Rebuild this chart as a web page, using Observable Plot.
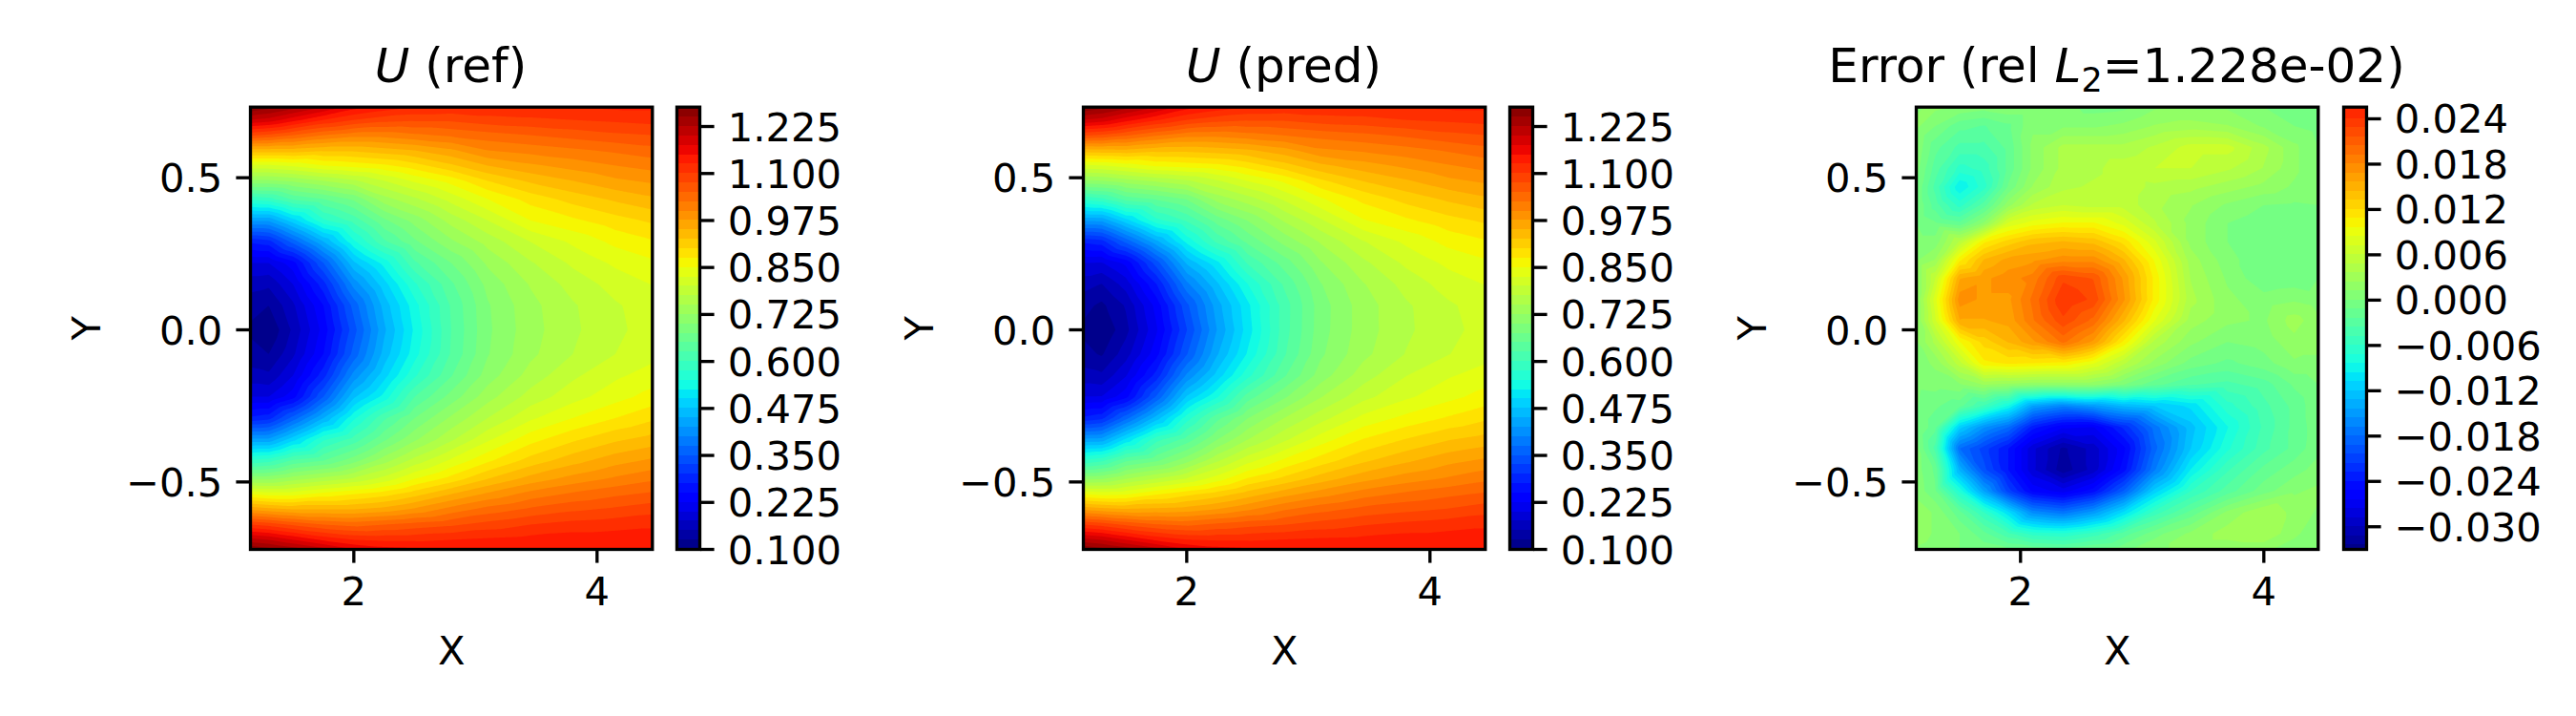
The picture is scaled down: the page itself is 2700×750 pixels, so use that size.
<!DOCTYPE html>
<html><head><meta charset="utf-8">
<script src="https://cdn.jsdelivr.net/npm/d3@7"></script>
<script src="https://cdn.jsdelivr.net/npm/@observablehq/plot@0.6"></script>
<style>
html,body{margin:0;padding:0;background:#fff}
#page{position:relative;width:2700px;height:750px;overflow:hidden;background:#fff;font-family:"DejaVu Sans"}
#page svg{position:absolute;top:0;background:transparent}
.title{position:absolute;top:39px;width:700px;text-align:center;font:50px/60px "DejaVu Sans";color:#000;white-space:nowrap}
.title sub{font-size:35px;line-height:0;vertical-align:-10px}
</style></head><body><div id="page"></div>
<script>
const uX=[1.15,1.3,1.5,1.75,2,2.25,2.5,2.8,3.1,3.45,3.8,4.15,4.455];
const uY=[.7321,.69,.64,.59,.54,.49,.43,.36,.29,.22,.15,.08,0,-.08,-.15,-.22,-.29,-.36,-.43,-.49,-.54,-.59,-.64,-.69,-.7217];
const uRef=[
[1.275,1.26,1.235,1.2,1.16,1.14,1.125,1.12,1.12,1.12,1.125,1.13,1.13],
[1.2,1.19,1.16,1.125,1.1,1.085,1.08,1.08,1.09,1.095,1.1,1.105,1.11],
[1.08,1.07,1.05,1.025,1.01,1.01,1.02,1.03,1.04,1.05,1.06,1.07,1.075],
[.94,.94,.94,.93,.93,.94,.95,.97,1,1.01,1.02,1.03,1.04],
[.82,.82,.83,.85,.86,.87,.89,.92,.95,.97,.985,1,1.01],
[.72,.72,.73,.75,.77,.8,.83,.86,.9,.93,.95,.97,.98],
[.58,.59,.63,.65,.68,.74,.77,.81,.85,.885,.91,.93,.945],
[.43,.43,.49,.57,.61,.67,.71,.76,.8,.85,.87,.89,.905],
[.28,.29,.36,.45,.545,.62,.67,.72,.76,.8,.83,.857,.872],
[.2,.2,.24,.35,.47,.535,.62,.675,.73,.772,.805,.83,.845],
[.16,.155,.2,.29,.41,.49,.57,.645,.708,.752,.785,.81,.826],
[.135,.125,.17,.25,.36,.46,.54,.628,.697,.742,.772,.797,.813],
[.12,.102,.155,.235,.34,.445,.53,.625,.695,.74,.77,.795,.81],
[.135,.125,.17,.25,.36,.46,.54,.628,.698,.744,.775,.8,.817],
[.16,.155,.2,.29,.41,.49,.57,.648,.712,.76,.795,.82,.836],
[.2,.2,.24,.35,.47,.535,.625,.685,.74,.785,.815,.84,.86],
[.28,.29,.36,.45,.545,.62,.675,.73,.775,.82,.85,.875,.895],
[.43,.43,.49,.57,.61,.67,.72,.77,.82,.865,.895,.92,.935],
[.58,.59,.63,.65,.69,.74,.785,.83,.87,.91,.94,.965,.98],
[.72,.72,.74,.76,.78,.81,.85,.885,.925,.96,.985,1.005,1.02],
[.85,.84,.84,.86,.875,.89,.915,.95,.98,1.01,1.03,1.045,1.055],
[.97,.96,.95,.95,.95,.96,.98,1.01,1.035,1.055,1.07,1.08,1.09],
[1.1,1.09,1.07,1.05,1.04,1.05,1.06,1.07,1.085,1.1,1.11,1.115,1.12],
[1.21,1.2,1.175,1.145,1.125,1.12,1.12,1.125,1.13,1.135,1.14,1.14,1.14],
[1.275,1.26,1.24,1.21,1.175,1.16,1.155,1.15,1.15,1.15,1.15,1.15,1.15]];
const uPred=[
[1.275,1.26,1.235,1.2,1.16,1.14,1.125,1.12,1.12,1.12,1.125,1.13,1.13],
[1.2,1.19,1.16,1.128,1.1,1.085,1.078,1.078,1.088,1.092,1.1,1.105,1.11],
[1.08,1.072,1.054,1.029,1.01,1.008,1.016,1.026,1.035,1.044,1.055,1.068,1.075],
[.94,.943,.945,.934,.932,.938,.946,.965,.995,1.004,1.015,1.028,1.04],
[.82,.824,.837,.855,.862,.868,.886,.915,.944,.964,.981,.998,1.01],
[.72,.724,.739,.755,.771,.797,.826,.855,.895,.926,.947,.969,.98],
[.58,.593,.636,.653,.677,.735,.764,.804,.846,.882,.909,.93,.945],
[.43,.431,.491,.567,.604,.661,.701,.753,.796,.848,.87,.891,.905],
[.28,.289,.357,.442,.532,.606,.656,.708,.753,.798,.83,.858,.872],
[.2,.198,.232,.337,.454,.518,.603,.661,.722,.769,.805,.831,.845],
[.16,.149,.186,.274,.393,.47,.549,.629,.698,.748,.784,.811,.826],
[.134,.119,.153,.234,.343,.438,.518,.612,.688,.738,.771,.796,.812],
[.119,.102,.142,.221,.324,.426,.512,.613,.689,.738,.77,.793,.809],
[.134,.122,.164,.241,.348,.447,.528,.621,.695,.743,.776,.799,.816],
[.16,.155,.198,.285,.405,.485,.566,.646,.712,.763,.799,.822,.836],
[.2,.201,.242,.353,.478,.547,.637,.695,.748,.792,.82,.842,.86],
[.28,.292,.366,.462,.563,.642,.699,.75,.79,.832,.857,.878,.895],
[.43,.433,.505,.59,.635,.699,.749,.794,.837,.876,.901,.923,.935],
[.58,.594,.646,.671,.716,.771,.816,.855,.887,.92,.945,.967,.98],
[.72,.723,.75,.777,.803,.838,.878,.907,.938,.967,.988,1.004,1.019],
[.85,.842,.846,.872,.893,.912,.937,.966,.989,1.014,1.031,1.044,1.054],
[.97,.961,.953,.957,.962,.976,.996,1.022,1.041,1.058,1.068,1.077,1.089],
[1.1,1.09,1.07,1.052,1.044,1.056,1.066,1.074,1.086,1.098,1.107,1.114,1.12],
[1.21,1.2,1.175,1.145,1.126,1.122,1.122,1.126,1.13,1.133,1.139,1.14,1.14],
[1.275,1.26,1.24,1.21,1.175,1.16,1.155,1.15,1.15,1.15,1.15,1.15,1.15]];
const errX=[1.143,1.3,1.5,1.7,1.9,2.1,2.35,2.6,2.85,3.1,3.4,3.7,4,4.25,4.447];
const errY=[.7321,.67,.6,.53,.47,.41,.35,.29,.23,.17,.1,.03,-.04,-.11,-.18,-.25,-.32,-.39,-.46,-.53,-.6,-.67,-.7217];
const errField=[
[.001,.0015,.001,.0005,.001,.001,.0005,-.0005,-.0003,.001,.001,.001,0,-.0005,-.001],
[.0015,0,-.002,-.0025,-.0015,.001,.001,.001,.0015,.0025,.003,.0025,.001,0,-.0005],
[.001,-.002,-.004,-.004,-.002,.0015,.004,.004,.004,.005,.0065,.0065,.004,.0015,0],
[.0005,-.003,-.0065,-.0055,-.002,.0015,.004,.0045,.0055,.006,.006,.005,.0035,.0015,0],
[0,-.004,-.0095,-.0065,-.001,.0025,.0045,.005,.0055,.0045,.004,.003,.002,.001,0],
[0,-.003,-.0065,-.003,.002,.005,.006,.0055,.0055,.004,.0025,.001,0,-.0002,0],
[0,-.001,-.002,.0015,.0075,.009,.0098,.0098,.008,.005,.002,0,-.0008,-.0008,-.0002],
[.0005,.0005,.005,.0105,.0125,.014,.0145,.014,.0115,.0075,.002,0,-.001,-.001,0],
[.001,.0025,.0105,.0145,.016,.0165,.0175,.0175,.0145,.0095,.003,.0005,-.001,-.001,0],
[.001,.006,.0155,.0165,.0175,.0185,.0225,.0215,.0165,.0105,.0035,.001,-.001,-.0008,0],
[.001,.008,.0175,.0165,.0165,.0195,.024,.0225,.017,.0105,.004,.0015,.0005,.001,.0005],
[.001,.007,.0155,.0155,.016,.019,.0225,.02,.0145,.0085,.003,.0015,.001,.003,.0015],
[.001,.004,.0095,.0125,.0145,.0165,.0195,.0165,.0105,.0045,.0015,0,.0005,.002,.0015],
[.0005,.0015,.0055,.0105,.011,.0108,.0105,.0085,.005,.002,-.0005,-.0015,-.0005,.001,.001],
[.0003,.0005,.001,.0025,.002,.0015,.0015,.0015,0,-.002,-.0035,-.004,-.003,-.001,0],
[.0001,-.001,-.002,-.005,-.0085,-.0145,-.0165,-.015,-.013,-.012,-.0105,-.0065,-.004,-.002,-.0003],
[.0002,-.002,-.0115,-.0155,-.018,-.0235,-.0262,-.0265,-.0225,-.0175,-.0125,-.0085,-.0045,-.002,-.0005],
[.0005,-.004,-.018,-.021,-.024,-.0285,-.0315,-.0295,-.0255,-.0185,-.012,-.0075,-.004,-.002,-.0003],
[.0006,-.0015,-.0135,-.02,-.024,-.0285,-.032,-.0295,-.0245,-.017,-.0095,-.005,-.002,-.0005,.0005],
[.0008,-.001,-.0075,-.0145,-.021,-.0255,-.027,-.0245,-.019,-.0115,-.006,-.003,-.0005,.001,.0015],
[.002,.001,-.002,-.006,-.0105,-.016,-.0175,-.015,-.0105,-.0055,-.002,.0015,.0035,.002,.001],
[.002,.001,0,-.002,-.0045,-.0065,-.007,-.0055,-.003,-.0005,.0015,.003,.0035,.0015,.0003],
[.001,.0005,0,-.0005,-.001,-.0015,-.002,-.001,-.0003,.001,.0015,.0015,.0015,.0005,0]];
const uTicks=[.1,.225,.35,.475,.6,.725,.85,.975,1.1,1.225];
const errTicks=[-.03,-.024,-.018,-.012,-.006,0,.006,.012,.018,.024];
const xTicks=[2,4];
const yTicks=[-.5,0,.5];
// matplotlib jet breakpoints
const jetR=[[0,0],[.35,0],[.66,1],[.89,1],[1,.5]];
const jetG=[[0,0],[.125,0],[.375,1],[.64,1],[.91,0],[1,0]];
const jetB=[[0,.5],[.11,1],[.34,1],[.65,0],[1,0]];
const ch=(s,t)=>d3.scaleLinear(s.map(d=>d[0]),s.map(d=>d[1])).clamp(true)(t);
const jet=t=>`rgb(${[jetR,jetG,jetB].map(s=>Math.round(255*ch(s,t))).join(",")})`;
const uLevels=d3.range(48).map(i=>+(0.1+i*0.025).toFixed(4));
const errLevels=d3.range(51).map(i=>+(-0.0336+i*0.0012).toFixed(4));
const FONT="41.67px 'DejaVu Sans'";
const page=document.getElementById("page");
const flat=(X,Y,R)=>Y.flatMap((y,j)=>X.map((x,i)=>({x,y,v:R[j][i]})));
function colorOf(levels,vmin,vmax){
  const mids=levels.slice(0,-1).map((l,i)=>(l+levels[i+1])/2);
  return {type:"threshold",domain:levels.slice(1,-1),range:mids.map(m=>jet((m-vmin)/(vmax-vmin)))};
}
function nudge(svg){
  svg.querySelectorAll('g[aria-label="y-axis tick label"] text').forEach(t=>t.setAttribute("dy","0.04em"));
}
function panel(left,X,Y,R,xd,levels,vmin,vmax){
  const svg=Plot.plot({
    width:700,height:750,marginLeft:262,marginRight:16.7,marginTop:111.7,marginBottom:175,
    style:{font:FONT,background:"transparent",color:"#000"},
    x:{domain:xd},y:{domain:[-.7217,.7321]},
    color:colorOf(levels,vmin,vmax),
    marks:[
      Plot.contour(flat(X,Y,R),{x:"x",y:"y",value:"v",fill:"value",thresholds:levels.slice(0,-1),interpolate:"barycentric",pixelSize:1,clip:true}),
      Plot.frame({stroke:"#000",strokeWidth:3.33}),
      Plot.axisX({ticks:xTicks,tickFormat:d3.format("d"),tickSize:14.6,tickPadding:14.6,strokeWidth:3.33,label:"X",labelAnchor:"center",labelArrow:"none",labelOffset:120}),
      Plot.axisY({ticks:yTicks,tickFormat:d3.format(".1f"),tickSize:14.6,tickPadding:14.6,strokeWidth:3.33,label:"Y",labelAnchor:"center",labelArrow:"none",labelOffset:187})
    ]});
  nudge(svg);
  svg.style.left=left+"px";page.appendChild(svg);
}
function colorbar(left,levels,vmin,vmax,ydom,ticks,fmt){
  const bands=levels.slice(0,-1).map((lo,i)=>({lo,hi:levels[i+1]}));
  const svg=Plot.plot({
    width:230,height:750,marginLeft:9,marginRight:197,marginTop:111.7,marginBottom:175,
    style:{font:FONT,background:"transparent",color:"#000"},
    x:{domain:[0,1],axis:null},y:{domain:ydom},
    color:colorOf(levels,vmin,vmax),
    marks:[
      Plot.rect(bands,{x1:0,x2:1,y1:"lo",y2:"hi",fill:"lo",clip:true,shapeRendering:"crispEdges"}),
      Plot.frame({stroke:"#000",strokeWidth:3.33}),
      Plot.axisY({anchor:"right",ticks,tickFormat:d3.format(fmt),tickSize:14.6,tickPadding:14.6,strokeWidth:3.33,label:null})
    ]});
  nudge(svg);
  svg.style.left=left+"px";page.appendChild(svg);
}
function title(left,html){
  const d=document.createElement("div");d.className="title";d.style.left=left+"px";d.innerHTML=html;page.appendChild(d);
}
const uDom=[1.15,4.455], eDom=[1.143,4.447];
panel(0,uX,uY,uRef,uDom,uLevels,.1,1.275);
colorbar(700,uLevels,.1,1.275,[.1,1.2766],uTicks,".3f");
panel(873,uX,uY,uPred,uDom,uLevels,.1,1.275);
colorbar(1573,uLevels,.1,1.275,[.1,1.2766],uTicks,".3f");
panel(1746,errX,errY,errField,eDom,errLevels,-.0336,.0336);
colorbar(2447,errLevels,-.0336,.0336,[-.033,.02555],errTicks,".3f");
title(122.5,"<i>U</i> (ref)");
title(995.5,"<i>U</i> (pred)");
title(1868.5,"Error (rel <i>L</i><sub>2</sub>=1.228e-02)");
</script></body></html>
